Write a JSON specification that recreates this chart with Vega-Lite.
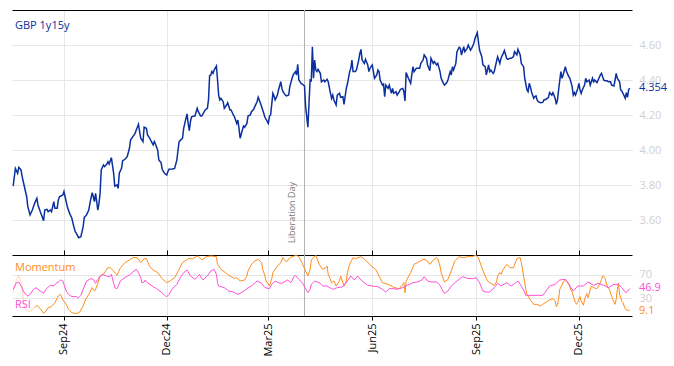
{
"$schema": "https://vega.github.io/schema/vega-lite/v6.json",
"padding": {"left": 10, "top": 9, "right": 0, "bottom": 0},
"spacing": 0,
"bounds": "flush",
"config": {"font": "Open Sans", "view": {"stroke": null}},
"datasets": {
"gbp": [
{"date":"2024-07-18","v":3.794},{"date":"2024-07-20","v":3.895},{"date":"2024-07-22","v":3.867},{"date":"2024-07-23","v":3.901},{"date":"2024-07-25","v":3.886},{"date":"2024-07-26","v":3.848},{"date":"2024-07-28","v":3.790},{"date":"2024-07-30","v":3.733},{"date":"2024-07-31","v":3.676},{"date":"2024-08-02","v":3.629},{"date":"2024-08-04","v":3.657},{"date":"2024-08-06","v":3.695},{"date":"2024-08-08","v":3.724},{"date":"2024-08-09","v":3.686},{"date":"2024-08-11","v":3.648},{"date":"2024-08-14","v":3.596},{"date":"2024-08-15","v":3.657},{"date":"2024-08-17","v":3.661},{"date":"2024-08-18","v":3.648},{"date":"2024-08-20","v":3.657},{"date":"2024-08-21","v":3.648},{"date":"2024-08-23","v":3.705},{"date":"2024-08-24","v":3.667},{"date":"2024-08-26","v":3.667},{"date":"2024-08-27","v":3.714},{"date":"2024-08-28","v":3.733},{"date":"2024-08-31","v":3.743},{"date":"2024-09-01","v":3.762},{"date":"2024-09-02","v":3.733},{"date":"2024-09-04","v":3.676},{"date":"2024-09-06","v":3.638},{"date":"2024-09-08","v":3.610},{"date":"2024-09-09","v":3.581},{"date":"2024-09-11","v":3.533},{"date":"2024-09-12","v":3.524},{"date":"2024-09-14","v":3.499},{"date":"2024-09-16","v":3.505},{"date":"2024-09-18","v":3.562},{"date":"2024-09-19","v":3.615},{"date":"2024-09-21","v":3.629},{"date":"2024-09-23","v":3.657},{"date":"2024-09-24","v":3.695},{"date":"2024-09-26","v":3.756},{"date":"2024-09-27","v":3.733},{"date":"2024-09-28","v":3.705},{"date":"2024-09-29","v":3.752},{"date":"2024-10-01","v":3.657},{"date":"2024-10-02","v":3.695},{"date":"2024-10-03","v":3.752},{"date":"2024-10-04","v":3.886},{"date":"2024-10-06","v":3.914},{"date":"2024-10-07","v":3.905},{"date":"2024-10-09","v":3.920},{"date":"2024-10-10","v":3.933},{"date":"2024-10-11","v":3.920},{"date":"2024-10-13","v":3.956},
{"date":"2024-10-15","v":3.867},{"date":"2024-10-16","v":3.794},{"date":"2024-10-18","v":3.800},{"date":"2024-10-19","v":3.781},{"date":"2024-10-20","v":3.867},{"date":"2024-10-22","v":3.895},{"date":"2024-10-23","v":3.939},{"date":"2024-10-25","v":3.947},{"date":"2024-10-27","v":3.962},{"date":"2024-10-29","v":4.010},{"date":"2024-10-30","v":4.057},{"date":"2024-11-01","v":4.076},{"date":"2024-11-03","v":4.095},{"date":"2024-11-04","v":4.114},{"date":"2024-11-06","v":4.147},{"date":"2024-11-07","v":4.105},{"date":"2024-11-08","v":4.067},{"date":"2024-11-10","v":4.048},{"date":"2024-11-11","v":4.130},{"date":"2024-11-13","v":4.124},{"date":"2024-11-14","v":4.086},{"date":"2024-11-16","v":4.067},{"date":"2024-11-17","v":4.053},{"date":"2024-11-19","v":4.029},{"date":"2024-11-20","v":4.048},{"date":"2024-11-21","v":4.034},{"date":"2024-11-23","v":4.000},{"date":"2024-11-24","v":3.943},{"date":"2024-11-26","v":3.928},{"date":"2024-11-27","v":3.890},{"date":"2024-11-29","v":3.867},{"date":"2024-12-01","v":3.857},{"date":"2024-12-02","v":3.876},{"date":"2024-12-03","v":3.890},{"date":"2024-12-06","v":3.891},{"date":"2024-12-08","v":3.895},{"date":"2024-12-10","v":3.943},{"date":"2024-12-11","v":4.000},{"date":"2024-12-12","v":4.048},{"date":"2024-12-15","v":4.067},{"date":"2024-12-16","v":4.124},{"date":"2024-12-17","v":4.152},{"date":"2024-12-19","v":4.206},{"date":"2024-12-20","v":4.152},{"date":"2024-12-21","v":4.110},{"date":"2024-12-22","v":4.162},{"date":"2024-12-23","v":4.190},{"date":"2024-12-25","v":4.194},{"date":"2024-12-26","v":4.194},{"date":"2024-12-28","v":4.238},{"date":"2024-12-29","v":4.219},{"date":"2024-12-31","v":4.194},{"date":"2025-01-01","v":4.194},{"date":"2025-01-03","v":4.217},{"date":"2025-01-04","v":4.229},{"date":"2025-01-06","v":4.238},{"date":"2025-01-07","v":4.286},{"date":"2025-01-08","v":4.425},{"date":"2025-01-09","v":4.427},{"date":"2025-01-10","v":4.448},{"date":"2025-01-11","v":4.438},{"date":"2025-01-12","v":4.457},{"date":"2025-01-14","v":4.480},{"date":"2025-01-15","v":4.400},
{"date":"2025-01-16","v":4.314},{"date":"2025-01-17","v":4.286},{"date":"2025-01-18","v":4.295},{"date":"2025-01-20","v":4.276},{"date":"2025-01-21","v":4.238},{"date":"2025-01-23","v":4.257},{"date":"2025-01-24","v":4.270},{"date":"2025-01-26","v":4.229},{"date":"2025-01-27","v":4.229},{"date":"2025-01-29","v":4.200},{"date":"2025-01-30","v":4.190},{"date":"2025-02-01","v":4.152},{"date":"2025-02-02","v":4.171},{"date":"2025-02-03","v":4.124},{"date":"2025-02-04","v":4.067},{"date":"2025-02-06","v":4.114},{"date":"2025-02-07","v":4.137},{"date":"2025-02-08","v":4.130},{"date":"2025-02-10","v":4.152},{"date":"2025-02-11","v":4.194},{"date":"2025-02-13","v":4.200},{"date":"2025-02-14","v":4.219},{"date":"2025-02-16","v":4.232},{"date":"2025-02-17","v":4.248},{"date":"2025-02-19","v":4.276},{"date":"2025-02-20","v":4.301},{"date":"2025-02-22","v":4.267},{"date":"2025-02-23","v":4.248},{"date":"2025-02-24","v":4.229},{"date":"2025-02-26","v":4.187},{"date":"2025-02-27","v":4.175},{"date":"2025-03-01","v":4.152},{"date":"2025-03-02","v":4.194},{"date":"2025-03-03","v":4.200},{"date":"2025-03-05","v":4.324},{"date":"2025-03-06","v":4.309},{"date":"2025-03-07","v":4.286},{"date":"2025-03-09","v":4.314},{"date":"2025-03-10","v":4.343},{"date":"2025-03-12","v":4.390},{"date":"2025-03-13","v":4.352},{"date":"2025-03-14","v":4.333},{"date":"2025-03-16","v":4.314},{"date":"2025-03-17","v":4.309},{"date":"2025-03-19","v":4.314},{"date":"2025-03-20","v":4.362},{"date":"2025-03-22","v":4.410},{"date":"2025-03-23","v":4.429},{"date":"2025-03-25","v":4.448},{"date":"2025-03-26","v":4.429},{"date":"2025-03-27","v":4.490},{"date":"2025-03-28","v":4.400},{"date":"2025-03-30","v":4.381},{"date":"2025-03-31","v":4.377},{"date":"2025-04-02","v":4.366},{"date":"2025-04-03","v":4.248},{"date":"2025-04-05","v":4.130},{"date":"2025-04-06","v":4.267},{"date":"2025-04-07","v":4.400},{"date":"2025-04-08","v":4.396},{"date":"2025-04-09","v":4.590},{"date":"2025-04-10","v":4.410},{"date":"2025-04-11","v":4.514},{"date":"2025-04-12","v":4.457},{"date":"2025-04-13","v":4.448},{"date":"2025-04-14","v":4.461},
{"date":"2025-04-16","v":4.438},{"date":"2025-04-17","v":4.390},{"date":"2025-04-19","v":4.400},{"date":"2025-04-20","v":4.390},{"date":"2025-04-22","v":4.404},{"date":"2025-04-23","v":4.390},{"date":"2025-04-25","v":4.324},{"date":"2025-04-26","v":4.295},{"date":"2025-04-27","v":4.314},{"date":"2025-04-28","v":4.286},{"date":"2025-04-30","v":4.257},{"date":"2025-05-01","v":4.314},{"date":"2025-05-03","v":4.324},{"date":"2025-05-04","v":4.301},{"date":"2025-05-06","v":4.305},{"date":"2025-05-07","v":4.261},{"date":"2025-05-09","v":4.352},{"date":"2025-05-10","v":4.377},{"date":"2025-05-12","v":4.448},{"date":"2025-05-13","v":4.467},{"date":"2025-05-14","v":4.514},{"date":"2025-05-15","v":4.448},{"date":"2025-05-17","v":4.448},{"date":"2025-05-18","v":4.457},{"date":"2025-05-20","v":4.514},{"date":"2025-05-21","v":4.552},{"date":"2025-05-22","v":4.575},{"date":"2025-05-23","v":4.514},{"date":"2025-05-25","v":4.495},{"date":"2025-05-26","v":4.518},{"date":"2025-05-28","v":4.486},{"date":"2025-05-29","v":4.448},{"date":"2025-05-30","v":4.467},{"date":"2025-06-01","v":4.486},{"date":"2025-06-02","v":4.448},{"date":"2025-06-03","v":4.410},{"date":"2025-06-05","v":4.429},{"date":"2025-06-06","v":4.457},{"date":"2025-06-07","v":4.448},{"date":"2025-06-08","v":4.400},{"date":"2025-06-10","v":4.371},{"date":"2025-06-11","v":4.377},{"date":"2025-06-12","v":4.305},{"date":"2025-06-13","v":4.371},{"date":"2025-06-15","v":4.352},{"date":"2025-06-16","v":4.371},{"date":"2025-06-18","v":4.324},{"date":"2025-06-19","v":4.352},{"date":"2025-06-20","v":4.324},{"date":"2025-06-22","v":4.333},{"date":"2025-06-23","v":4.314},{"date":"2025-06-25","v":4.333},{"date":"2025-06-26","v":4.347},{"date":"2025-06-28","v":4.352},{"date":"2025-06-29","v":4.333},{"date":"2025-06-30","v":4.280},{"date":"2025-07-01","v":4.442},{"date":"2025-07-03","v":4.410},{"date":"2025-07-05","v":4.381},{"date":"2025-07-06","v":4.429},{"date":"2025-07-07","v":4.476},{"date":"2025-07-08","v":4.448},{"date":"2025-07-10","v":4.467},{"date":"2025-07-11","v":4.467},
{"date":"2025-07-13","v":4.467},{"date":"2025-07-14","v":4.495},{"date":"2025-07-16","v":4.514},{"date":"2025-07-17","v":4.543},{"date":"2025-07-19","v":4.524},{"date":"2025-07-20","v":4.486},{"date":"2025-07-22","v":4.453},{"date":"2025-07-23","v":4.524},{"date":"2025-07-25","v":4.495},{"date":"2025-07-26","v":4.505},{"date":"2025-07-28","v":4.486},{"date":"2025-07-29","v":4.495},{"date":"2025-07-31","v":4.448},{"date":"2025-08-01","v":4.410},{"date":"2025-08-03","v":4.381},{"date":"2025-08-04","v":4.371},{"date":"2025-08-06","v":4.385},{"date":"2025-08-07","v":4.400},{"date":"2025-08-09","v":4.448},{"date":"2025-08-10","v":4.429},{"date":"2025-08-11","v":4.476},{"date":"2025-08-12","v":4.457},{"date":"2025-08-14","v":4.495},{"date":"2025-08-15","v":4.562},{"date":"2025-08-17","v":4.587},{"date":"2025-08-18","v":4.581},{"date":"2025-08-19","v":4.543},{"date":"2025-08-21","v":4.590},{"date":"2025-08-22","v":4.562},{"date":"2025-08-24","v":4.581},{"date":"2025-08-25","v":4.600},{"date":"2025-08-27","v":4.571},{"date":"2025-08-28","v":4.581},{"date":"2025-08-30","v":4.610},{"date":"2025-08-31","v":4.638},{"date":"2025-09-02","v":4.670},{"date":"2025-09-03","v":4.619},{"date":"2025-09-04","v":4.571},{"date":"2025-09-06","v":4.533},{"date":"2025-09-07","v":4.486},{"date":"2025-09-09","v":4.476},{"date":"2025-09-10","v":4.429},{"date":"2025-09-12","v":4.486},{"date":"2025-09-13","v":4.448},{"date":"2025-09-14","v":4.457},{"date":"2025-09-16","v":4.438},{"date":"2025-09-17","v":4.448},{"date":"2025-09-19","v":4.505},{"date":"2025-09-20","v":4.533},{"date":"2025-09-22","v":4.495},{"date":"2025-09-23","v":4.524},{"date":"2025-09-25","v":4.552},{"date":"2025-09-26","v":4.568},{"date":"2025-09-28","v":4.524},{"date":"2025-09-29","v":4.518},{"date":"2025-10-01","v":4.524},{"date":"2025-10-02","v":4.524},{"date":"2025-10-04","v":4.533},{"date":"2025-10-05","v":4.562},{"date":"2025-10-07","v":4.543},{"date":"2025-10-08","v":4.575},{"date":"2025-10-10","v":4.543},{"date":"2025-10-11","v":4.495},{"date":"2025-10-13","v":4.476},
{"date":"2025-10-14","v":4.410},{"date":"2025-10-16","v":4.343},{"date":"2025-10-17","v":4.333},{"date":"2025-10-18","v":4.381},{"date":"2025-10-19","v":4.362},{"date":"2025-10-20","v":4.333},{"date":"2025-10-22","v":4.295},{"date":"2025-10-23","v":4.305},{"date":"2025-10-24","v":4.309},{"date":"2025-10-25","v":4.286},{"date":"2025-10-26","v":4.276},{"date":"2025-10-28","v":4.270},{"date":"2025-10-30","v":4.272},{"date":"2025-10-31","v":4.286},{"date":"2025-11-02","v":4.290},{"date":"2025-11-04","v":4.301},{"date":"2025-11-05","v":4.328},{"date":"2025-11-07","v":4.314},{"date":"2025-11-08","v":4.328},{"date":"2025-11-10","v":4.295},{"date":"2025-11-11","v":4.261},{"date":"2025-11-12","v":4.286},{"date":"2025-11-13","v":4.343},{"date":"2025-11-15","v":4.448},{"date":"2025-11-16","v":4.410},{"date":"2025-11-17","v":4.429},{"date":"2025-11-19","v":4.476},{"date":"2025-11-20","v":4.448},{"date":"2025-11-22","v":4.419},{"date":"2025-11-23","v":4.410},{"date":"2025-11-25","v":4.362},{"date":"2025-11-26","v":4.314},{"date":"2025-11-27","v":4.328},{"date":"2025-11-28","v":4.314},{"date":"2025-11-30","v":4.352},{"date":"2025-12-01","v":4.381},{"date":"2025-12-02","v":4.343},{"date":"2025-12-03","v":4.324},{"date":"2025-12-04","v":4.343},{"date":"2025-12-06","v":4.371},{"date":"2025-12-07","v":4.410},{"date":"2025-12-08","v":4.390},{"date":"2025-12-10","v":4.400},{"date":"2025-12-11","v":4.371},{"date":"2025-12-13","v":4.410},{"date":"2025-12-14","v":4.390},{"date":"2025-12-15","v":4.400},{"date":"2025-12-17","v":4.385},{"date":"2025-12-18","v":4.400},{"date":"2025-12-20","v":4.429},{"date":"2025-12-21","v":4.438},{"date":"2025-12-23","v":4.400},{"date":"2025-12-24","v":4.396},{"date":"2025-12-26","v":4.396},{"date":"2025-12-27","v":4.390},{"date":"2025-12-29","v":4.390},{"date":"2025-12-30","v":4.371},{"date":"2026-01-01","v":4.366},{"date":"2026-01-02","v":4.400},{"date":"2026-01-03","v":4.438},{"date":"2026-01-04","v":4.410},{"date":"2026-01-06","v":4.390},{"date":"2026-01-07","v":4.343},{"date":"2026-01-08","v":4.337},{"date":"2026-01-09","v":4.324},{"date":"2026-01-11","v":4.295},{"date":"2026-01-12","v":4.328},{"date":"2026-01-13","v":4.301},{"date":"2026-01-14","v":4.343},{"date":"2026-01-15","v":4.354}
],
"momwarm": [
{"date":"2024-07-18","v":39.8},{"date":"2024-07-21","v":62.5},{"date":"2024-07-23","v":69.3},{"date":"2024-07-26","v":51.1},{"date":"2024-07-27","v":22.7},{"date":"2024-07-29","v":11.4},{"date":"2024-07-31","v":8.5},{"date":"2024-08-03","v":8.5},{"date":"2024-08-06","v":14.2}
],
"mom": [
{"date":"2024-08-06","v":14.2},{"date":"2024-08-08","v":18.2},{"date":"2024-08-11","v":12.5},{"date":"2024-08-14","v":4.5},{"date":"2024-08-16","v":8.5},{"date":"2024-08-18","v":14.2},{"date":"2024-08-21","v":15.9},{"date":"2024-08-24","v":22.7},{"date":"2024-08-27","v":34.1},{"date":"2024-08-29","v":36.9},{"date":"2024-08-31","v":27.3},{"date":"2024-09-03","v":19.9},{"date":"2024-09-05","v":11.4},{"date":"2024-09-08","v":5.7},{"date":"2024-09-12","v":4.0},{"date":"2024-09-15","v":6.8},{"date":"2024-09-18","v":17.1},{"date":"2024-09-20","v":27.3},{"date":"2024-09-23","v":36.9},{"date":"2024-09-26","v":48.3},{"date":"2024-09-28","v":42.6},{"date":"2024-09-29","v":45.5},{"date":"2024-10-01","v":55.7},{"date":"2024-10-03","v":68.2},{"date":"2024-10-06","v":71.0},{"date":"2024-10-08","v":76.7},{"date":"2024-10-10","v":82.4},{"date":"2024-10-12","v":82.4},{"date":"2024-10-15","v":76.7},{"date":"2024-10-18","v":69.3},{"date":"2024-10-21","v":82.4},{"date":"2024-10-25","v":90.9},{"date":"2024-10-29","v":95.5},{"date":"2024-11-01","v":99.5},{"date":"2024-11-05","v":99.5},{"date":"2024-11-08","v":90.9},{"date":"2024-11-11","v":97.7},{"date":"2024-11-13","v":97.7},{"date":"2024-11-16","v":84.1},{"date":"2024-11-19","v":78.4},{"date":"2024-11-23","v":73.9},{"date":"2024-11-27","v":63.7},{"date":"2024-12-01","v":56.8},{"date":"2024-12-04","v":59.7},{"date":"2024-12-08","v":65.4},{"date":"2024-12-12","v":79.6},{"date":"2024-12-15","v":90.9},{"date":"2024-12-20","v":97.7},{"date":"2024-12-24","v":97.7},{"date":"2024-12-28","v":102.3},{"date":"2024-12-30","v":99.5},{"date":"2025-01-01","v":95.5},{"date":"2025-01-05","v":101.2},{"date":"2025-01-09","v":102.3},{"date":"2025-01-14","v":101.2},{"date":"2025-01-15","v":88.1},{"date":"2025-01-18","v":79.6},{"date":"2025-01-22","v":73.9},{"date":"2025-01-26","v":68.2},{"date":"2025-01-30","v":63.7},{"date":"2025-02-01","v":65.4},{"date":"2025-02-04","v":59.7},{"date":"2025-02-08","v":61.4},{"date":"2025-02-10","v":68.2},{"date":"2025-02-11","v":76.7},{"date":"2025-02-14","v":88.1},{"date":"2025-02-17","v":93.8},{"date":"2025-02-20","v":96.6},{"date":"2025-02-23","v":90.9},{"date":"2025-02-24","v":79.6},{"date":"2025-02-26","v":68.2},{"date":"2025-02-27","v":59.7},{"date":"2025-03-02","v":51.1},{"date":"2025-03-04","v":63.7},{"date":"2025-03-05","v":73.9},{"date":"2025-03-08","v":82.4},{"date":"2025-03-12","v":90.9},{"date":"2025-03-14","v":99.5},{"date":"2025-03-15","v":96.6},{"date":"2025-03-17","v":92.1},{"date":"2025-03-20","v":99.5},{"date":"2025-03-24","v":102.3},{"date":"2025-03-26","v":103.4},{"date":"2025-03-28","v":101.2},{"date":"2025-03-31","v":89.8},{"date":"2025-04-03","v":76.7},{"date":"2025-04-05","v":68.2},{"date":"2025-04-07","v":79.6},{"date":"2025-04-08","v":95.5},{"date":"2025-04-12","v":103.4},{"date":"2025-04-15","v":88.1},{"date":"2025-04-18","v":79.6},{"date":"2025-04-21","v":82.4},{"date":"2025-04-22","v":85.2},{"date":"2025-04-23","v":71.0},{"date":"2025-04-26","v":56.8},{"date":"2025-04-28","v":59.7},{"date":"2025-04-30","v":51.1},{"date":"2025-05-03","v":59.7},{"date":"2025-05-04","v":68.2},{"date":"2025-05-07","v":51.1},{"date":"2025-05-09","v":59.7},{"date":"2025-05-10","v":73.9},{"date":"2025-05-12","v":88.1},{"date":"2025-05-15","v":99.5},{"date":"2025-05-17","v":97.7},{"date":"2025-05-22","v":101.2},{"date":"2025-05-26","v":95.5},{"date":"2025-05-31","v":85.2},{"date":"2025-06-04","v":79.6},{"date":"2025-06-07","v":68.2},{"date":"2025-06-10","v":56.8},{"date":"2025-06-15","v":54.0},{"date":"2025-06-19","v":50.0},{"date":"2025-06-22","v":47.7},{"date":"2025-06-25","v":46.6},{"date":"2025-06-28","v":54.0},{"date":"2025-06-29","v":56.8},{"date":"2025-06-30","v":39.8},{"date":"2025-07-01","v":59.7},{"date":"2025-07-05","v":73.9},{"date":"2025-07-08","v":88.1},{"date":"2025-07-11","v":90.9},{"date":"2025-07-16","v":96.6},{"date":"2025-07-19","v":95.5},{"date":"2025-07-22","v":88.1},{"date":"2025-07-25","v":95.5},{"date":"2025-07-28","v":99.5},{"date":"2025-07-29","v":97.7},{"date":"2025-07-31","v":85.2},{"date":"2025-08-01","v":73.9},{"date":"2025-08-04","v":58.0},{"date":"2025-08-07","v":62.5},{"date":"2025-08-10","v":76.7},{"date":"2025-08-13","v":93.8},{"date":"2025-08-17","v":101.2},{"date":"2025-08-20","v":99.5},{"date":"2025-08-25","v":101.2},{"date":"2025-08-28","v":101.2},{"date":"2025-09-01","v":103.4},{"date":"2025-09-03","v":99.5},{"date":"2025-09-06","v":82.4},{"date":"2025-09-09","v":68.2},{"date":"2025-09-11","v":59.7},{"date":"2025-09-14","v":55.7},{"date":"2025-09-17","v":52.3},{"date":"2025-09-19","v":58.0},{"date":"2025-09-20","v":68.2},{"date":"2025-09-22","v":73.9},{"date":"2025-09-23","v":71.0},{"date":"2025-09-25","v":79.6},{"date":"2025-09-28","v":88.1},{"date":"2025-10-01","v":82.4},{"date":"2025-10-04","v":82.4},{"date":"2025-10-07","v":97.7},{"date":"2025-10-10","v":99.5},{"date":"2025-10-11","v":90.9},{"date":"2025-10-13","v":68.2},{"date":"2025-10-14","v":56.8},{"date":"2025-10-15","v":45.5},{"date":"2025-10-16","v":36.9},{"date":"2025-10-19","v":27.3},{"date":"2025-10-22","v":19.9},{"date":"2025-10-25","v":19.9},{"date":"2025-10-28","v":17.1},{"date":"2025-10-30","v":19.9},{"date":"2025-11-02","v":23.9},{"date":"2025-11-05","v":27.3},{"date":"2025-11-08","v":29.6},{"date":"2025-11-10","v":25.6},{"date":"2025-11-11","v":15.9},{"date":"2025-11-12","v":19.9},{"date":"2025-11-13","v":28.4},{"date":"2025-11-14","v":45.5},{"date":"2025-11-16","v":52.3},{"date":"2025-11-17","v":58.0},{"date":"2025-11-19","v":61.4},{"date":"2025-11-20","v":59.7},{"date":"2025-11-22","v":55.7},{"date":"2025-11-23","v":48.3},{"date":"2025-11-25","v":40.9},{"date":"2025-11-26","v":34.1},{"date":"2025-11-28","v":22.7},{"date":"2025-11-29","v":19.9},{"date":"2025-11-30","v":23.9},{"date":"2025-12-02","v":33.0},{"date":"2025-12-03","v":25.6},{"date":"2025-12-05","v":18.2},{"date":"2025-12-06","v":28.4},{"date":"2025-12-08","v":38.6},{"date":"2025-12-09","v":31.3},{"date":"2025-12-10","v":36.9},{"date":"2025-12-11","v":45.5},{"date":"2025-12-12","v":51.1},{"date":"2025-12-14","v":48.3},{"date":"2025-12-17","v":46.6},{"date":"2025-12-20","v":56.8},{"date":"2025-12-21","v":62.5},{"date":"2025-12-22","v":68.2},{"date":"2025-12-24","v":65.4},{"date":"2025-12-25","v":58.0},{"date":"2025-12-26","v":51.1},{"date":"2025-12-28","v":45.5},{"date":"2025-12-30","v":33.0},{"date":"2026-01-01","v":23.9},{"date":"2026-01-02","v":19.9},{"date":"2026-01-03","v":28.4},{"date":"2026-01-04","v":45.5},{"date":"2026-01-05","v":55.7},{"date":"2026-01-06","v":36.9},{"date":"2026-01-08","v":25.6},{"date":"2026-01-09","v":22.7},{"date":"2026-01-10","v":17.1},{"date":"2026-01-11","v":12.5},{"date":"2026-01-12","v":10.2},{"date":"2026-01-14","v":9.7},{"date":"2026-01-15","v":9.1}
],
"rsi": [
{"date":"2024-07-18","v":45.5},{"date":"2024-07-21","v":56.8},{"date":"2024-07-23","v":58.0},{"date":"2024-07-25","v":51.1},{"date":"2024-07-27","v":42.6},{"date":"2024-07-29","v":36.9},{"date":"2024-07-31","v":34.1},{"date":"2024-08-02","v":36.9},{"date":"2024-08-05","v":45.5},{"date":"2024-08-07","v":48.3},{"date":"2024-08-09","v":45.5},{"date":"2024-08-11","v":42.6},{"date":"2024-08-14","v":38.6},{"date":"2024-08-16","v":45.5},{"date":"2024-08-18","v":49.4},{"date":"2024-08-20","v":52.3},{"date":"2024-08-23","v":51.1},{"date":"2024-08-25","v":55.7},{"date":"2024-08-27","v":58.0},{"date":"2024-08-29","v":61.4},{"date":"2024-08-31","v":59.7},{"date":"2024-09-01","v":54.0},{"date":"2024-09-03","v":42.6},{"date":"2024-09-05","v":36.9},{"date":"2024-09-07","v":34.1},{"date":"2024-09-09","v":33.0},{"date":"2024-09-12","v":33.0},{"date":"2024-09-14","v":31.3},{"date":"2024-09-16","v":35.2},{"date":"2024-09-18","v":45.5},{"date":"2024-09-21","v":59.7},{"date":"2024-09-23","v":61.4},{"date":"2024-09-25","v":63.7},{"date":"2024-09-27","v":62.5},{"date":"2024-09-29","v":55.7},{"date":"2024-10-01","v":62.5},{"date":"2024-10-03","v":68.2},{"date":"2024-10-05","v":71.0},{"date":"2024-10-07","v":69.3},{"date":"2024-10-09","v":68.2},{"date":"2024-10-11","v":66.5},{"date":"2024-10-13","v":71.0},{"date":"2024-10-15","v":55.7},{"date":"2024-10-16","v":48.3},{"date":"2024-10-18","v":46.6},{"date":"2024-10-21","v":59.7},{"date":"2024-10-25","v":65.4},{"date":"2024-10-29","v":69.9},{"date":"2024-11-01","v":75.0},{"date":"2024-11-04","v":79.6},{"date":"2024-11-06","v":73.9},{"date":"2024-11-08","v":65.4},{"date":"2024-11-09","v":56.8},{"date":"2024-11-11","v":58.0},{"date":"2024-11-12","v":61.4},{"date":"2024-11-13","v":58.0},{"date":"2024-11-16","v":54.0},{"date":"2024-11-19","v":50.0},{"date":"2024-11-22","v":46.6},{"date":"2024-11-26","v":40.9},{"date":"2024-11-30","v":34.1},{"date":"2024-12-01","v":33.0},{"date":"2024-12-03","v":36.9},{"date":"2024-12-06","v":46.6},{"date":"2024-12-10","v":54.0},{"date":"2024-12-13","v":65.4},{"date":"2024-12-16","v":73.9},{"date":"2024-12-19","v":78.4},{"date":"2024-12-22","v":68.2},{"date":"2024-12-26","v":62.5},{"date":"2024-12-29","v":68.2},{"date":"2024-12-30","v":71.0},{"date":"2025-01-01","v":63.7},{"date":"2025-01-02","v":61.4},{"date":"2025-01-06","v":68.2},{"date":"2025-01-09","v":76.7},{"date":"2025-01-12","v":79.6},{"date":"2025-01-14","v":71.0},{"date":"2025-01-15","v":56.8},{"date":"2025-01-16","v":51.1},{"date":"2025-01-21","v":48.3},{"date":"2025-01-25","v":42.6},{"date":"2025-01-29","v":40.9},{"date":"2025-02-02","v":36.9},{"date":"2025-02-06","v":40.9},{"date":"2025-02-10","v":46.6},{"date":"2025-02-14","v":51.1},{"date":"2025-02-18","v":58.0},{"date":"2025-02-19","v":59.7},{"date":"2025-02-23","v":55.7},{"date":"2025-02-26","v":48.3},{"date":"2025-03-02","v":46.6},{"date":"2025-03-04","v":54.0},{"date":"2025-03-07","v":59.7},{"date":"2025-03-10","v":56.8},{"date":"2025-03-13","v":55.7},{"date":"2025-03-18","v":61.4},{"date":"2025-03-21","v":56.8},{"date":"2025-03-24","v":68.2},{"date":"2025-03-25","v":69.3},{"date":"2025-03-28","v":62.5},{"date":"2025-03-31","v":56.8},{"date":"2025-04-03","v":46.6},{"date":"2025-04-05","v":39.8},{"date":"2025-04-07","v":45.5},{"date":"2025-04-08","v":54.0},{"date":"2025-04-11","v":59.7},{"date":"2025-04-16","v":55.7},{"date":"2025-04-18","v":51.1},{"date":"2025-04-22","v":51.1},{"date":"2025-04-27","v":45.5},{"date":"2025-05-01","v":48.3},{"date":"2025-05-06","v":50.0},{"date":"2025-05-10","v":59.7},{"date":"2025-05-13","v":68.2},{"date":"2025-05-16","v":61.4},{"date":"2025-05-19","v":68.2},{"date":"2025-05-23","v":59.7},{"date":"2025-05-28","v":52.3},{"date":"2025-06-01","v":51.1},{"date":"2025-06-06","v":50.0},{"date":"2025-06-10","v":45.5},{"date":"2025-06-13","v":40.9},{"date":"2025-06-16","v":46.6},{"date":"2025-06-20","v":46.6},{"date":"2025-06-23","v":45.5},{"date":"2025-06-28","v":48.3},{"date":"2025-07-02","v":52.3},{"date":"2025-07-07","v":56.8},{"date":"2025-07-11","v":58.0},{"date":"2025-07-15","v":61.4},{"date":"2025-07-17","v":67.1},{"date":"2025-07-20","v":59.7},{"date":"2025-07-23","v":58.0},{"date":"2025-07-28","v":58.0},{"date":"2025-07-31","v":52.3},{"date":"2025-08-03","v":40.9},{"date":"2025-08-04","v":38.6},{"date":"2025-08-07","v":42.6},{"date":"2025-08-10","v":51.1},{"date":"2025-08-14","v":58.0},{"date":"2025-08-20","v":67.1},{"date":"2025-08-25","v":63.7},{"date":"2025-08-29","v":63.7},{"date":"2025-09-01","v":65.4},{"date":"2025-09-04","v":56.8},{"date":"2025-09-07","v":42.6},{"date":"2025-09-10","v":40.9},{"date":"2025-09-13","v":40.9},{"date":"2025-09-17","v":48.3},{"date":"2025-09-20","v":55.7},{"date":"2025-09-23","v":51.1},{"date":"2025-09-28","v":56.8},{"date":"2025-10-02","v":51.1},{"date":"2025-10-07","v":58.0},{"date":"2025-10-08","v":59.7},{"date":"2025-10-11","v":51.1},{"date":"2025-10-13","v":44.3},{"date":"2025-10-15","v":35.2},{"date":"2025-10-17","v":35.2},{"date":"2025-10-22","v":35.2},{"date":"2025-10-26","v":35.2},{"date":"2025-10-30","v":35.2},{"date":"2025-11-02","v":42.6},{"date":"2025-11-05","v":51.1},{"date":"2025-11-10","v":54.0},{"date":"2025-11-14","v":61.4},{"date":"2025-11-19","v":62.5},{"date":"2025-11-23","v":51.1},{"date":"2025-11-26","v":42.6},{"date":"2025-11-30","v":51.1},{"date":"2025-12-05","v":51.1},{"date":"2025-12-09","v":58.0},{"date":"2025-12-14","v":52.3},{"date":"2025-12-18","v":55.7},{"date":"2025-12-23","v":52.3},{"date":"2025-12-27","v":48.3},{"date":"2026-01-01","v":54.0},{"date":"2026-01-05","v":54.0},{"date":"2026-01-08","v":48.3},{"date":"2026-01-11","v":40.9},{"date":"2026-01-12","v":39.8},{"date":"2026-01-15","v":46.9}
],
"event": [{"date":"2025-04-02","label":"Liberation Day"}],
"lastgbp": [{"v":4.354,"label":"4.354"}],
"lastind": [{"series":"RSI","v":46.9,"label":"46.9"},{"series":"Momentum","v":9.1,"label":"9.1"}]
},
"vconcat": [
{
"width": 620, "height": 245,
"layer": [
{"data":{"name":"event"},"mark":{"type":"rule","color":"#b3b3b3","strokeWidth":1},
 "encoding":{"x":{"field":"date","type":"temporal","scale":{"type":"utc","domain":[{"year":2024,"month":7,"date":17,"utc":true},{"year":2026,"month":1,"date":17,"utc":true}]},
   "axis":{"orient":"top","values":[{"year":2024,"month":9,"date":1,"utc":true},{"year":2024,"month":12,"date":1,"utc":true},{"year":2025,"month":3,"date":1,"utc":true},{"year":2025,"month":6,"date":1,"utc":true},{"year":2025,"month":9,"date":1,"utc":true},{"year":2025,"month":12,"date":1,"utc":true}],"grid":true,"gridColor":"#e6e6e6","domain":true,"domainColor":"#000000","domainWidth":1,"ticks":false,"labels":false,"title":null}}}},
{"data":{"name":"gbp"},"mark":{"type":"line","color":"#0b2f9f","strokeWidth":1.5},
 "encoding":{"x":{"field":"date","type":"temporal"},
  "y":{"field":"v","type":"quantitative","scale":{"domain":[3.4,4.8],"nice":false,"zero":false},
   "axis":{"orient":"right","values":[3.6,3.8,4.0,4.2,4.4,4.6],"format":".2f","grid":true,"gridColor":"#e6e6e6","domain":false,"ticks":false,"labelColor":"#d0d0d0","labelFontSize":11,"labelPadding":7,"title":null}}}},
{"data":{"name":"event"},"mark":{"type":"text","angle":270,"align":"left","baseline":"bottom","dx":12,"dy":-7,"fontSize":9,"color":"#777777"},
 "encoding":{"x":{"field":"date","type":"temporal"},"y":{"datum":3.4},"text":{"field":"label"}}},
{"data":{"values":[{"label":"GBP 1y15y"}]},"mark":{"type":"text","align":"left","baseline":"middle","dx":3,"dy":16,"fontSize":11,"color":"#0b2f9f"},
 "encoding":{"x":{"datum":{"year":2024,"month":7,"date":17,"utc":true},"type":"temporal"},"y":{"datum":4.8},"text":{"field":"label"}}},
{"data":{"name":"lastgbp"},"mark":{"type":"text","align":"left","baseline":"middle","dx":7,"fontSize":11,"color":"#0b2f9f"},
 "encoding":{"x":{"datum":{"year":2026,"month":1,"date":17,"utc":true},"type":"temporal"},"y":{"field":"v","type":"quantitative"},"text":{"field":"label"}}}
]
},
{
"width": 620, "height": 61,
"resolve": {"axis": {"x": "independent"}},
"layer": [
{"data":{"name":"event"},"mark":{"type":"rule","color":"#b3b3b3","strokeWidth":1},
 "encoding":{"x":{"field":"date","type":"temporal","scale":{"type":"utc","domain":[{"year":2024,"month":7,"date":17,"utc":true},{"year":2026,"month":1,"date":17,"utc":true}]},
   "axis":{"orient":"top","values":[{"year":2024,"month":9,"date":1,"utc":true},{"year":2024,"month":12,"date":1,"utc":true},{"year":2025,"month":3,"date":1,"utc":true},{"year":2025,"month":6,"date":1,"utc":true},{"year":2025,"month":9,"date":1,"utc":true},{"year":2025,"month":12,"date":1,"utc":true}],"grid":true,"gridColor":"#e6e6e6","domainColor":"#000000","tickColor":"#000000","tickSize":5,"labels":false,"title":null}}}},
{"data":{"name":"momwarm"},"mark":{"type":"line","color":"#ff8c1a","strokeWidth":1,"opacity":0.35},
 "encoding":{"x":{"field":"date","type":"temporal","axis":null},
  "y":{"field":"v","type":"quantitative","scale":{"domain":[0,104],"nice":false,"zero":false},
   "axis":{"orient":"right","values":[30,70],"grid":true,"gridColor":"#e6e6e6","domain":false,"ticks":false,"labelColor":"#d0d0d0","labelFontSize":11,"labelPadding":7,"title":null}}}},
{"data":{"name":"mom"},"mark":{"type":"line","color":"#ff8c1a","strokeWidth":1},
 "encoding":{"x":{"field":"date","type":"temporal",
   "axis":{"orient":"bottom","values":[{"year":2024,"month":9,"date":1,"utc":true},{"year":2024,"month":12,"date":1,"utc":true},{"year":2025,"month":3,"date":1,"utc":true},{"year":2025,"month":6,"date":1,"utc":true},{"year":2025,"month":9,"date":1,"utc":true},{"year":2025,"month":12,"date":1,"utc":true}],"format":"%b%y","labelAngle":270,"labelColor":"#000000","labelFontSize":11,"labelPadding":3,"grid":false,"domainColor":"#000000","tickColor":"#000000","tickSize":4,"title":null}},
  "y":{"field":"v","type":"quantitative"}}},
{"data":{"name":"rsi"},"mark":{"type":"line","color":"#ff4fd8","strokeWidth":1},
 "encoding":{"x":{"field":"date","type":"temporal","axis":null},"y":{"field":"v","type":"quantitative"}}},
{"data":{"values":[{"label":"Momentum"}]},"mark":{"type":"text","align":"left","baseline":"middle","dx":3,"dy":13,"fontSize":11,"color":"#ff8c1a"},
 "encoding":{"x":{"datum":{"year":2024,"month":7,"date":17,"utc":true},"type":"temporal","axis":null},"y":{"datum":104},"text":{"field":"label"}}},
{"data":{"values":[{"label":"RSI"}]},"mark":{"type":"text","align":"left","baseline":"middle","dx":3,"dy":-11,"fontSize":11,"color":"#ff4fd8"},
 "encoding":{"x":{"datum":{"year":2024,"month":7,"date":17,"utc":true},"type":"temporal","axis":null},"y":{"datum":0},"text":{"field":"label"}}},
{"data":{"name":"lastind"},"mark":{"type":"text","align":"left","baseline":"middle","dx":7,"fontSize":11},
 "encoding":{"x":{"datum":{"year":2026,"month":1,"date":17,"utc":true},"type":"temporal","axis":null},"y":{"field":"v","type":"quantitative"},"text":{"field":"label"},
  "color":{"field":"series","type":"nominal","scale":{"domain":["Momentum","RSI"],"range":["#ff8c1a","#ff4fd8"]},"legend":null}}}
]
}
]
}
